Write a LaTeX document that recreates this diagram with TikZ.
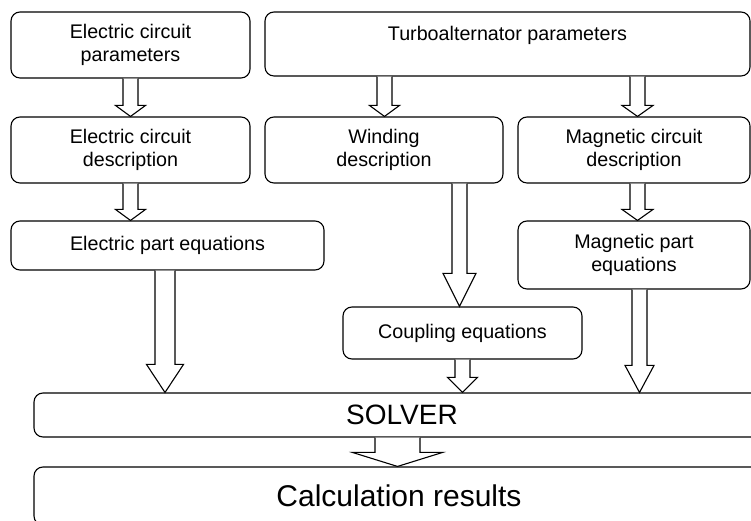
\documentclass[tikz,border=0pt]{standalone}
\usepackage{fontspec}
\setmainfont{Liberation Sans}
\usetikzlibrary{calc}
\tikzset{
  blk/.style={draw=black, line width=1.1pt, rounded corners=9pt, inner sep=0pt,
    align=center, font=\fontsize{19.7}{22.5}\selectfont},
  barr/.style={draw=black, line width=1.1pt, fill=white, line join=miter}
}
% block arrow: from node, to node, centre x, shaft half width, head half width, head length
\newcommand\blockarrow[6]{%
  \draw[barr] let \p1=(#1.south), \p2=(#2.north) in
    ({#3pt-#4pt},\y1) -- ({#3pt-#4pt},{\y2+#6pt}) -- ({#3pt-#5pt},{\y2+#6pt})
    -- ({#3pt},\y2) -- ({#3pt+#5pt},{\y2+#6pt}) -- ({#3pt+#4pt},{\y2+#6pt})
    -- ({#3pt+#4pt},\y1);}
\begin{document}
\begin{tikzpicture}[x=1pt,y=1pt]
\useasboundingbox (0,0) rectangle (751,521);
\clip (0,0) rectangle (751,521);
\fill[white] (0,0) rectangle (751,521);

\node[blk, minimum width=239pt, minimum height=66pt] (ecp) at (130.5,476) {Electric circuit\\parameters};
\node[blk, minimum width=485pt, minimum height=64pt, text height=14.4pt, text depth=20.5pt] (ta) at (507.5,477) {Turboalternator parameters};
\node[blk, minimum width=239pt, minimum height=66pt] (ecd) at (130.5,371) {Electric circuit\\description};
\node[blk, minimum width=238pt, minimum height=66pt] (wd) at (384,371) {Winding\\description};
\node[blk, minimum width=232pt, minimum height=66pt] (mcd) at (634,371) {Magnetic circuit\\description};
\node[blk, minimum width=313pt, minimum height=49pt] (epe) at (167.5,275.5) {Electric part equations};
\node[blk, minimum width=232pt, minimum height=68pt] (mpe) at (634,266) {Magnetic part\\equations};
\node[blk, minimum width=239pt, minimum height=52pt] (ce) at (462.5,188) {Coupling equations};
\node[blk, minimum width=736pt, minimum height=44pt, font=\fontsize{28}{32}\selectfont] (sol) at (402,106) {SOLVER};
\node[blk, minimum width=730pt, minimum height=58pt, font=\fontsize{30}{34}\selectfont] (res) at (399,25) {Calculation results};

\blockarrow{ecp}{ecd}{130.5}{7.5}{15}{11}
\blockarrow{ecd}{epe}{130.5}{7.5}{15}{11}
\blockarrow{ta}{wd}{384.5}{7.5}{15}{11}
\blockarrow{ta}{mcd}{637.5}{7.5}{15.5}{11}
\blockarrow{mcd}{mpe}{637.5}{7.5}{15.5}{11}
\blockarrow{epe}{sol}{165}{10}{18.5}{28}
\blockarrow{wd}{ce}{459.5}{7.5}{16.5}{33}
\blockarrow{mpe}{sol}{639.5}{7.5}{14.5}{27}
\blockarrow{ce}{sol}{462.5}{7.5}{15}{15}
\blockarrow{sol}{res}{397.5}{22.5}{45}{14}
\end{tikzpicture}
\end{document}
